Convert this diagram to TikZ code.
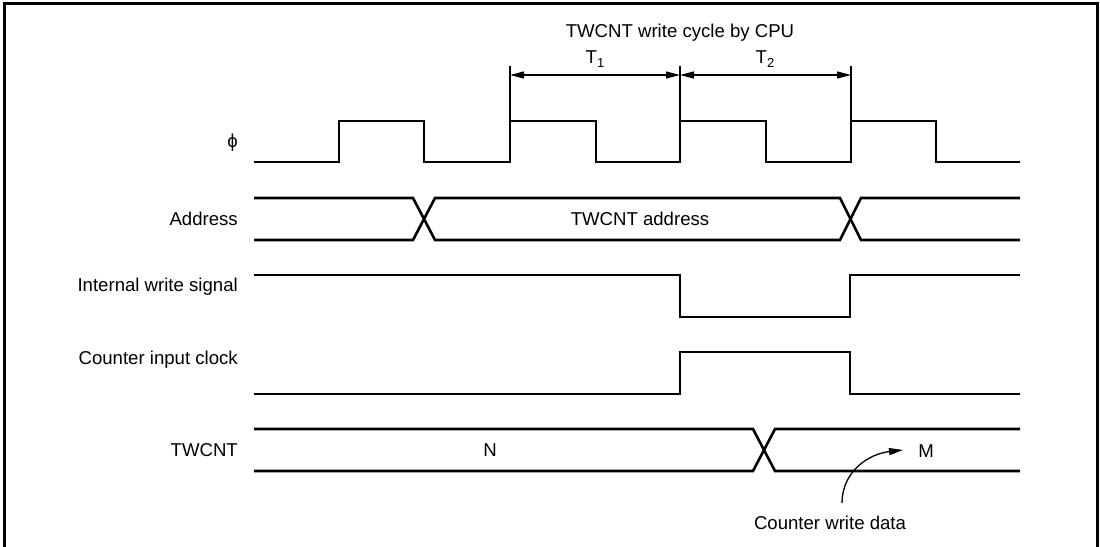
\documentclass[tikz,border=0pt]{standalone}
\usepackage{fontspec}
\setmainfont{Liberation Sans}
\usetikzlibrary{arrows.meta}
\begin{document}
\begin{tikzpicture}[x=1pt,y=-1pt,
  wave/.style={line width=2.6pt,line join=miter},
  frame/.style={line width=3pt},
  thin/.style={line width=1.3pt},
  lbl/.style={font=\fontsize{18.6}{22}\selectfont,inner sep=0pt},
  sig/.style={lbl,anchor=east},
  tip/.style={-{Triangle[length=14pt,width=7pt]}}]
\useasboundingbox (0,0) rectangle (1100,546);
\draw[frame] (4,548) -- (4,3) -- (1097,3) -- (1097,548);

% labels
\node[sig] (lphi) at (238,143) {ϕ};
\node[sig] (laddr) at (238,219) {Address};
\node[sig] (lwr) at (238,287) {Internal write signal};
\node[sig] (lclk) at (238,360) {Counter input clock};
\node[sig] (ltw) at (238,450) {TWCNT};

% clock
\draw[wave] (254,162) -- (339,162) -- (339,121) -- (424,121) -- (424,162)
  -- (510,162) -- (510,121) -- (596,121) -- (596,162)
  -- (680,162) -- (680,121) -- (766,121) -- (766,162)
  -- (851,162) -- (851,121) -- (936,121) -- (936,162) -- (1020,162);

% timing annotation
\node[lbl] (title) at (680,33) {TWCNT write cycle by CPU};
\coordinate (a1) at (510,66);
\coordinate (a2) at (680,66);
\coordinate (a3) at (851,66);
\draw[thin] (a1) -- (510,121);
\draw[thin] (a2) -- (680,121);
\draw[thin] (a3) -- (851,121);
\coordinate (b1) at (510,75);
\coordinate (b2) at (680,75);
\coordinate (b3) at (851,75);
\draw[thin,{Triangle[length=14pt,width=7pt]}-{Triangle[length=14pt,width=7pt]}] (b1) -- (b2);
\draw[thin,{Triangle[length=14pt,width=7pt]}-{Triangle[length=14pt,width=7pt]}] (b2) -- (b3);
\node[lbl] (t1) at (595,59) {T\raisebox{-0.35ex}{\fontsize{13}{15}\selectfont 1}};
\node[lbl] (t2) at (765,59) {T\raisebox{-0.35ex}{\fontsize{13}{15}\selectfont 2}};

% address bus
\draw[wave] (254,198) -- (413,198) -- (435,240) -- (840,240) -- (861,198) -- (1020,198);
\draw[wave] (254,240) -- (413,240) -- (435,198) -- (840,198) -- (861,240) -- (1020,240);
\node[lbl] (taddr) at (640,219) {TWCNT address};

% internal write signal
\draw[wave] (254,275) -- (680,275) -- (680,317) -- (850,317) -- (850,275) -- (1020,275);

% counter input clock
\draw[wave] (254,394) -- (680,394) -- (680,352) -- (850,352) -- (850,394) -- (1020,394);

% TWCNT bus
\draw[wave] (254,429) -- (753,429) -- (775,471) -- (1020,471);
\draw[wave] (254,471) -- (753,471) -- (775,429) -- (1020,429);
\node[lbl] (tn) at (490,450) {N};
\node[lbl] (tm) at (926,451) {M};

% counter write data
\node[lbl] (cwd) at (830,523) {Counter write data};
\coordinate (cend) at (903,450);
\draw[thin,tip] (842,503) .. controls (842,472) and (868,454) .. (cend);
\end{tikzpicture}
\end{document}
